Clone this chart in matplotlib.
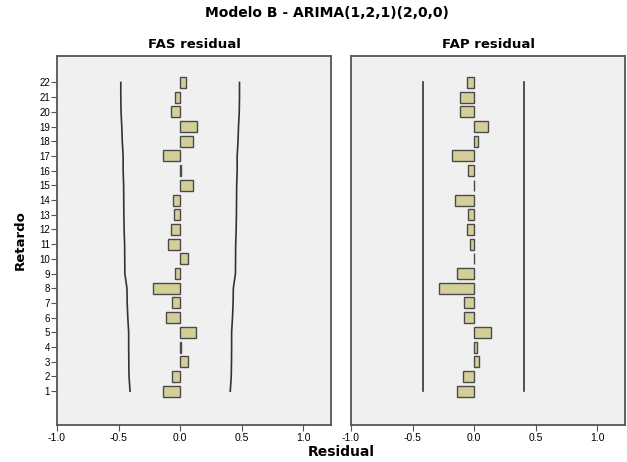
import matplotlib
matplotlib.use("Agg")
import matplotlib.pyplot as plt

plt.rcParams['font.family'] = ['Liberation Sans', 'DejaVu Sans']

lags = list(range(1, 23))
acf = [-0.14, -0.07, 0.062, 0.01, 0.127, -0.114, -0.07, -0.217, -0.04, 0.062,
       -0.095, -0.073, -0.049, -0.062, 0.106, 0.005, -0.138, 0.106, 0.133,
       -0.073, -0.04, 0.05]
acf_upper = [0.407, 0.415, 0.417, 0.418, 0.418, 0.425, 0.430, 0.432, 0.449, 0.450,
             0.451, 0.455, 0.457, 0.458, 0.459, 0.463, 0.463, 0.470, 0.474,
             0.480, 0.482, 0.482]
acf_lower = [-v for v in acf_upper]
pacf = [-0.14, -0.089, 0.038, 0.022, 0.138, -0.084, -0.084, -0.287, -0.138, -0.005,
        -0.035, -0.054, -0.046, -0.152, -0.005, -0.049, -0.176, 0.035, 0.114,
        -0.111, -0.114, -0.054]
pacf_upper = [0.407] * 22
pacf_lower = [-0.415] * 22

xticks = [-1.0, -0.5, 0.0, 0.5, 1.0]
xticklabels = ["-1.0", "-0.5", "0.0", "0.5", "1.0"]

title = "Modelo B - ARIMA(1,2,1)(2,0,0)"
panel_titles = ["FAS residual", "FAP residual"]

bold_family = ['DejaVu Sans']

fig = plt.figure(figsize=(6.27, 4.62), dpi=100)
fig.patch.set_facecolor('white')

bar_color = '#D4CF98'
edge_color = '#4a4a4a'
line_color = '#333333'
bg = '#F0F0F0'

axL = fig.add_axes([57/627, 1-425/462, 274/627, 369/462])
axR = fig.add_axes([351/627, 1-425/462, 274/627, 369/462])

for ax, vals, up, lo, ttl in [(axL, acf, acf_upper, acf_lower, panel_titles[0]),
                              (axR, pacf, pacf_upper, pacf_lower, panel_titles[1])]:
    ax.set_facecolor(bg)
    ax.barh(lags, vals, height=0.75, color=bar_color, edgecolor=edge_color,
            linewidth=1.0, zorder=3)
    ax.plot(up, lags, color=line_color, linewidth=1.2, zorder=2)
    ax.plot(lo, lags, color=line_color, linewidth=1.2, zorder=2)
    ax.set_xlim(-1.0, 1.225)
    ax.set_ylim(-1.3, 23.8)
    ax.set_xticks(xticks)
    ax.set_xticklabels(xticklabels, fontsize=7.5)
    ax.tick_params(axis='x', direction='out', length=4, width=0.8, color='#555555', pad=1.5)
    for s in ax.spines.values():
        s.set_color('#555555')
        s.set_linewidth(1.3)
    ax.set_title(ttl, fontsize=9.5, fontweight='bold', family=bold_family, pad=6)

axL.set_yticks(lags)
axL.set_yticklabels([str(l) for l in lags], fontsize=7)
axL.tick_params(axis='y', direction='out', length=4, width=0.8, color='#555555', pad=1)
axR.set_yticks([])
axL.set_ylabel("Retardo", fontsize=9.5, fontweight='bold', family=bold_family, labelpad=9)

fig.text(327/627, 1-13/462, title, ha='center', va='center', fontsize=10,
         fontweight='bold', family=bold_family)
fig.text(341/627, 1-452/462, "Residual", ha='center', va='center', fontsize=10,
         fontweight='bold', family=bold_family)

fig.savefig("out.png", dpi=100, facecolor='white')
